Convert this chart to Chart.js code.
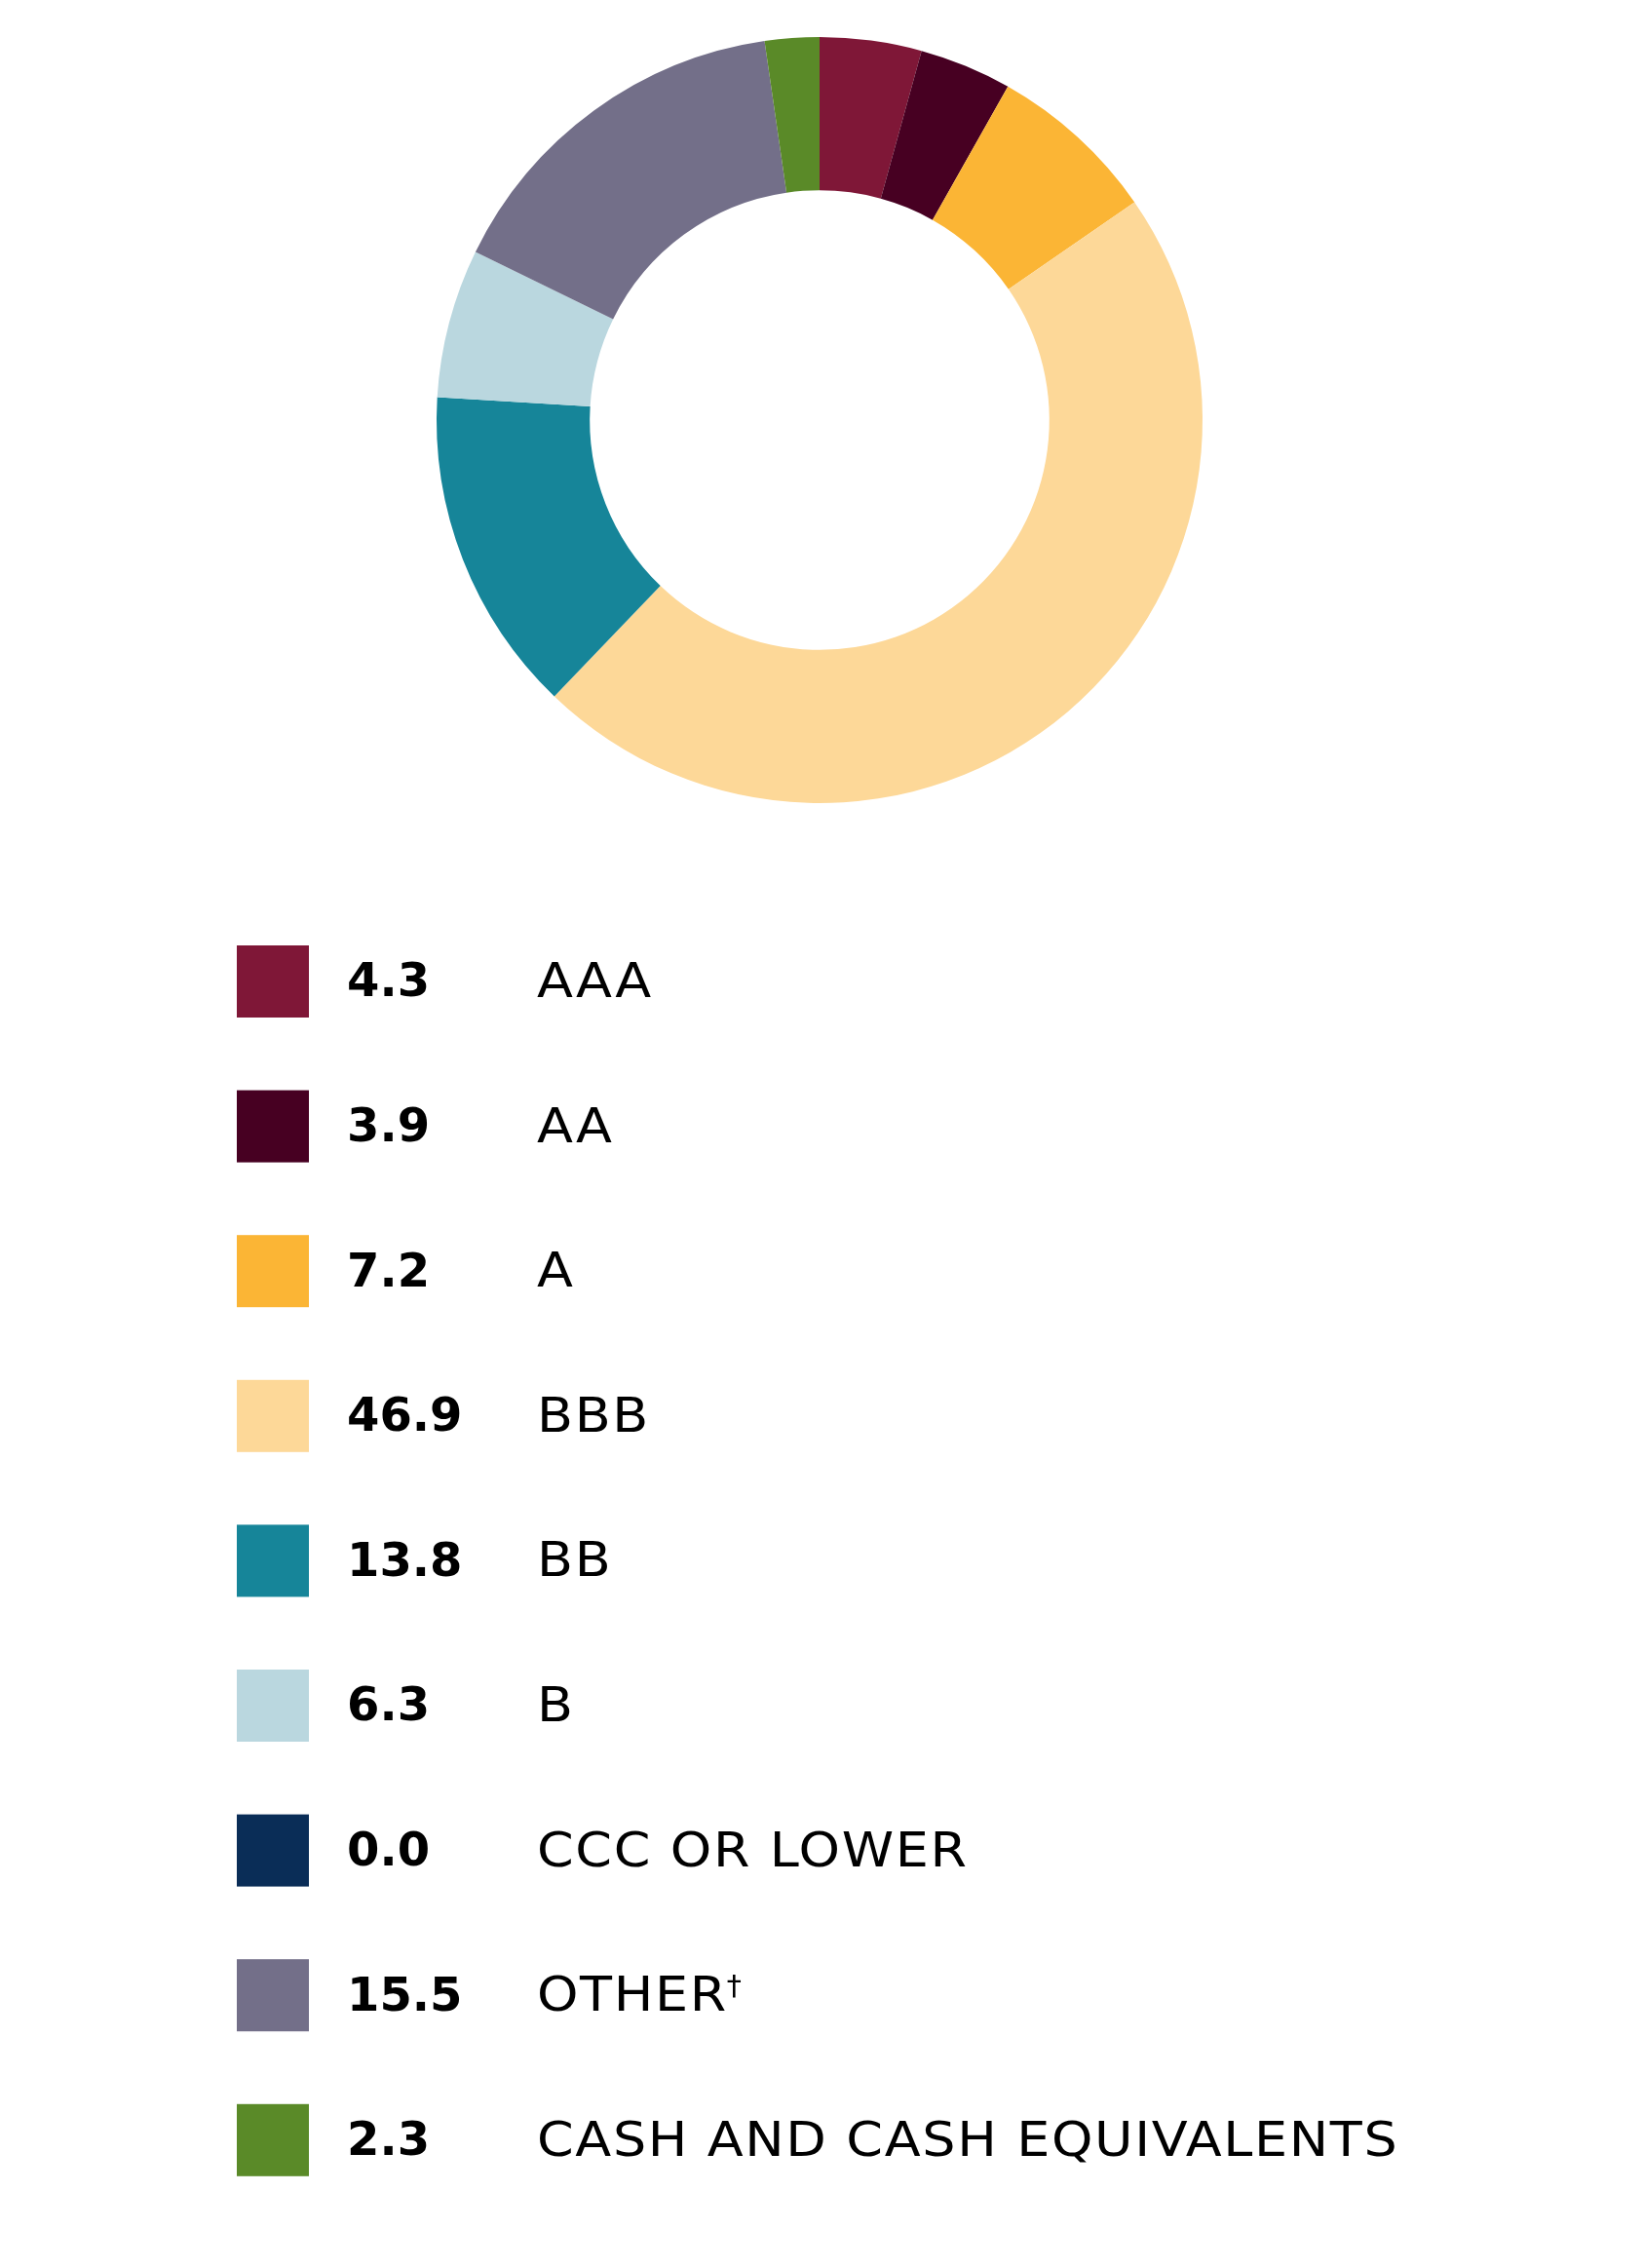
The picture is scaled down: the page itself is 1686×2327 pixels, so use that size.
<!DOCTYPE html>
<html>
<head>
<meta charset="utf-8">
<script src="https://cdn.jsdelivr.net/npm/chart.js@4.4.1/dist/chart.umd.min.js"></script>
<style>
    html, body { margin: 0; padding: 0; background: #ffffff; }
    #wrap { width: 1686px; height: 2327px; position: relative; }
</style>
</head>
<body>
<div id="wrap"><canvas id="qualityChart"></canvas></div>
<script>

// credit quality breakdown (%)
const categories = ["AAA", "AA", "A", "BBB", "BB", "B", "CCC OR LOWER", "OTHER\u2020", "CASH AND CASH EQUIVALENTS"];

const values = [4.3, 3.9, 7.2, 46.9, 13.8, 6.3, 0.0, 15.5, 2.3];

const colors = ["#7f1737", "#470022", "#fbb535", "#fdd898", "#168599", "#bad7df", "#0a2d57", "#736f89", "#5a8a28"];

// legend drawn on the canvas below the donut
const legendRows = {

    id: "legendRows",

    afterDraw(chart) {

        const ctx = chart.ctx;
        const top = 1007;
        const step = 148.6;

        ctx.save();
        ctx.textBaseline = "middle";

        categories.forEach((name, i) => {

            const y = top + i * step;

            ctx.fillStyle = colors[i];
            ctx.fillRect(243, y - 37, 74, 74);

            ctx.fillStyle = "#000000";
            ctx.letterSpacing = "0px";
            ctx.font = "bold 48px 'DejaVu Sans'";
            ctx.fillText(values[i].toFixed(1), 356, y + 3);

            // label font is wider than anything installed, stretch it a little
            let base = name;
            let mark = "";
            if (name.endsWith("\u2020")) {
                base = name.slice(0, -1);
                mark = "\u2020";
            }

            ctx.save();
            ctx.translate(551, y + 3);
            ctx.scale(1.08, 1);
            ctx.letterSpacing = "1.5px";
            ctx.font = "50px 'DejaVu Sans'";
            ctx.fillText(base, 0, 0);

            if (mark) {
                const w = ctx.measureText(base).width;
                ctx.font = "28px 'DejaVu Sans'";
                ctx.fillText(mark, w - 1, -10);
            }

            ctx.restore();

        });

        ctx.restore();

    }

};

new Chart(document.getElementById("qualityChart"), {

    type: "doughnut",

    data: {

        labels: categories,

        datasets: [{

            data: values,

            backgroundColor: colors,

            borderWidth: 0

        }]

    },

    options: {

        responsive: true,

        maintainAspectRatio: false,

        animation: false,

        cutout: "60%",

        layout: {

            padding: { top: 38, bottom: 1503, left: 448, right: 452 }

        },

        plugins: {

            legend: { display: false },

            tooltip: { enabled: false }

        }

    },

    plugins: [legendRows]

});

</script>
</body>
</html>
